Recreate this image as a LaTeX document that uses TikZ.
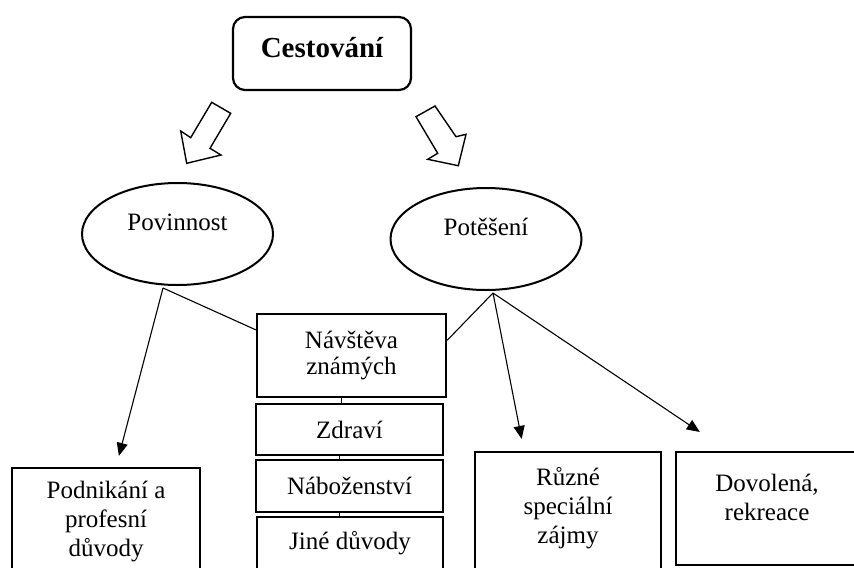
\documentclass[tikz,border=0pt]{standalone}
\usepackage{fontspec}
\setmainfont{Liberation Serif}
\usepackage{tikz}
\usetikzlibrary{arrows.meta,shapes.geometric}

\begin{document}
\begin{tikzpicture}[x=0.5pt,y=-0.5pt,
		box/.style={draw,line width=1.1pt,rectangle,align=center,inner sep=2pt,font=\fontsize{12.5}{14.5}\selectfont},
		oval/.style={draw,line width=1pt,ellipse,minimum width=95.5pt,minimum height=51pt,text height=8.5pt,text depth=12pt,font=\fontsize{12.5}{14.5}\selectfont},
		link/.style={line width=0.55pt},
		arr/.style={line width=0.55pt,-{Triangle[length=6.5pt,width=5.5pt]}},
		hollow/.style={fill=white,draw,line width=0.7pt,line join=miter}]
			\useasboundingbox (0,0) rectangle (854,567);
			\clip (0,0) rectangle (854,567);
			\fill[white] (0,0) rectangle (854,567);
			% top
			\node[box,rounded corners=6pt,minimum width=89pt,minimum height=36.5pt,text depth=6.5pt,font=\fontsize{14.5}{17}\selectfont\bfseries] (trip) at (322,53.5) {Cestování};
			\draw[hollow] (211.7,102.3) -- (230.7,113.3) -- (210,148.3) -- (221,155) -- (186.7,163.3) -- (180.7,131) -- (190.7,137.7) -- cycle;
			\draw[hollow] (416,116.7) -- (435,106) -- (456,136.7) -- (466,134.3) -- (458.3,165.7) -- (427.7,159.3) -- (437.7,153.3) -- cycle;
			% two reasons
			\node[oval] (duty) at (177.5,234) {Povinnost};
			\node[oval] (pleasure) at (486,239) {Potěšení};
			\coordinate (dutyfoot) at (163,288);
			\coordinate (pleasurefoot) at (493,293);
			% middle column
			\node[box,minimum width=94.5pt,minimum height=41.5pt,font=\fontsize{12.5}{13}\selectfont] (visit) at (351.5,355.5) {Návštěva\\známých};
			\node[box,minimum width=93.5pt,minimum height=25.5pt] (health) at (349.5,429.5) {Zdraví};
			\node[box,minimum width=93.5pt,minimum height=26pt] (religion) at (349.5,486) {Náboženství};
			\node[box,minimum width=93pt,minimum height=26pt] (other) at (350,543) {Jiné důvody};
			% bottom row
			\node[box,minimum width=94pt,minimum height=53pt] (business) at (106,521) {Podnikání a\\profesní\\důvody};
			\node[box,minimum width=93pt,minimum height=60pt,text depth=6.2pt] (special) at (568,512) {Různé\\speciální\\zájmy};
			\node[box,minimum width=91pt,minimum height=56.5pt,text depth=11.2pt] (holiday) at (767,508.5) {Dovolená,\\rekreace};
			% connectors
			\draw[link] (dutyfoot) -- (visit.165);
			\draw[link] (pleasurefoot) -- (visit.9);
			\foreach \a/\b in {visit/health,health/religion,religion/other} {
				\draw[link] ([xshift=-5pt]\a.south) -- ([xshift=-5pt]\a.south |- \b.north);
			}
			\draw[arr,shorten >=5.7pt] (dutyfoot) -- ([xshift=5pt]business.north);
			\draw[arr,shorten >=6.1pt] (pleasurefoot) -- ([xshift=-22pt]special.north);
			\draw[arr,shorten >=17pt] (pleasurefoot) -- ([xshift=-19.5pt]holiday.north);
		\end{tikzpicture}
\end{document}
